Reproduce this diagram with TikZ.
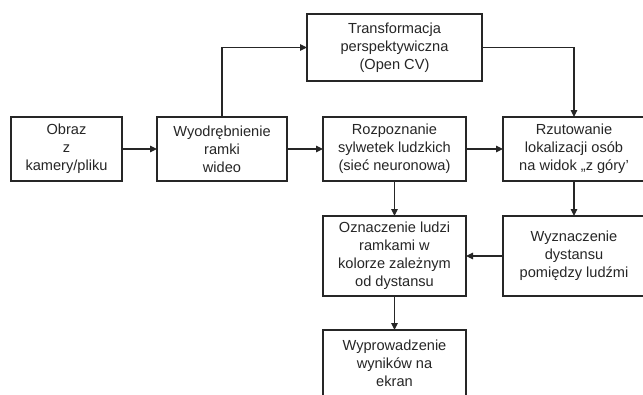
\documentclass[tikz,border=0pt]{standalone}
\usepackage{fontspec}
\setmainfont{Liberation Sans}
\usetikzlibrary{arrows.meta}
\begin{document}
\begin{tikzpicture}[x=1pt,y=-1pt,
  box/.style={draw=black!85, line width=1.1pt, align=center, inner sep=0pt, outer sep=0pt,
    font=\fontsize{14.6}{18}\selectfont, text=black!85},
  conn/.style={draw=black!85, line width=1.1pt, -{Triangle[length=7pt,width=6.5pt]}}]
\useasboundingbox[fill=white] (0,0) rectangle (643,394);
\node[box, minimum width=111pt, minimum height=64pt] (obraz) at (66.5,149) {Obraz\\z\\kamery/pliku};
\node[box, minimum width=130pt, minimum height=64pt] (wyod) at (222,149) {Wyodrębnienie\\ramki\\wideo};
\node[box, minimum width=143pt, minimum height=64pt] (rozp) at (394.5,149) {Rozpoznanie\\sylwetek ludzkich\\(sieć neuronowa)};
\node[box, minimum width=142pt, minimum height=64pt] (rzut) at (574,149) {Rzutowanie\\lokalizacji osób\\na widok „z góry’};
\node[box, minimum width=175pt, minimum height=67pt] (trans) at (394.5,47.5) {Transformacja\\perspektywiczna\\(Open CV)};
\node[box, minimum width=143pt, minimum height=80pt] (ozn) at (394.5,256) {Oznaczenie ludzi\\ramkami w\\kolorze zależnym\\od dystansu};
\node[box, minimum width=142pt, minimum height=80pt] (wyzn) at (574,256) {Wyznaczenie\\dystansu\\pomiędzy ludźmi};
\node[box, minimum width=143pt, minimum height=66pt] (wypr) at (394.5,363) {Wyprowadzenie\\wyników na\\ekran};
\draw[conn] (obraz) -- (wyod);
\draw[conn] (wyod) -- (rozp);
\draw[conn] (rozp) -- (rzut);
\draw[conn] (wyod.north) |- (trans.west);
\draw[conn] (trans.east) -| (rzut.north);
\draw[conn] (rozp) -- (ozn);
\draw[conn] (rzut) -- (wyzn);
\draw[conn] (wyzn) -- (ozn);
\draw[conn] (ozn) -- (wypr);
\end{tikzpicture}
\end{document}
